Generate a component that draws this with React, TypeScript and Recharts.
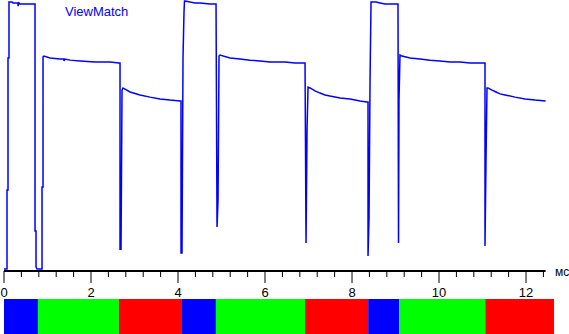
import { Bar, BarChart, Line, LineChart, XAxis, YAxis, Label } from "recharts";

// trace: time in ms, brightness in % of full scale
const traceTime = [
  0, 0.069, 0.069, 0.092, 0.092, 0.115, 0.115, 0.184, 0.207, 0.322, 0.322, 0.345, 0.368, 0.552, 0.713,
  0.713, 0.736, 0.736, 0.759, 0.874, 0.874, 0.897, 0.897, 0.92, 1.057, 1.287, 1.379, 1.379, 1.402, 1.517,
  1.747, 2.092, 2.437, 2.644, 2.667, 2.667, 2.69, 2.713, 2.736, 2.897, 3.126, 3.356, 3.586, 3.816, 4.046,
  4.069, 4.069, 4.092, 4.115, 4.138, 4.149,
  4.161, 4.276, 4.391, 4.506, 4.736, 4.874, 4.897, 4.92, 4.943, 4.966, 5.195, 5.425, 5.655, 5.885, 6.115,
  6.46, 6.69, 6.897, 6.92, 6.943, 6.966, 6.989, 7.034, 7.149, 7.264, 7.379, 7.494, 7.724, 7.954, 8.184,
  8.345, 8.368, 8.368, 8.391, 8.414, 8.437,
  8.552, 8.644, 8.759, 8.874, 9.034, 9.057, 9.069, 9.08, 9.103, 9.149, 9.333, 9.563, 9.793, 10.023, 10.253,
  10.483, 10.713, 11.034, 11.057, 11.057, 11.08, 11.103, 11.126, 11.218, 11.31, 11.402, 11.517, 11.747,
  11.977, 12.207, 12.45,
];
const traceLevel = [
  0.7, 0.7, 30.0, 30.0, 78.9, 78.9, 99.6, 99.6, 99.3, 99.3, 98.1, 99.3, 98.9, 98.9, 98.9,
  14.8, 14.8, 1.5, 0.7, 0.7, 31.1, 31.1, 79.3, 79.6, 78.9, 78.5, 78.5, 77.8, 78.5, 78.1,
  77.8, 77.4, 77.4, 77.0, 77.0, 8.1, 8.1, 67.0, 67.8, 66.3, 65.2, 64.4, 63.7, 63.3, 63.0,
  63.0, 6.7, 6.7, 79.3, 95.9, 100,
  100, 99.6, 99.3, 99.3, 98.9, 98.9, 16.3, 26.3, 79.6, 80.0, 78.9, 78.5, 78.1, 77.8, 77.4,
  77.4, 77.0, 77.0, 77.0, 10.4, 52.2, 68.1, 67.8, 66.7, 65.9, 65.2, 64.8, 64.1, 63.7, 63.0,
  62.6, 62.6, 5.6, 19.6, 70.0, 99.6,
  99.6, 99.3, 98.9, 98.9, 98.9, 98.9, 10.4, 63.3, 80.0, 79.6, 78.9, 78.5, 78.1, 77.8, 77.4,
  77.4, 77.0, 77.0, 77.0, 9.3, 41.1, 67.8, 67.8, 67.0, 66.3, 65.6, 65.2, 64.4,
  63.7, 63.3, 63.0,
];

// colour frames shown below the axis (ms)
const frameEdges = [0, 0.78, 2.64, 4.09, 4.87, 6.92, 8.37, 9.08, 11.06, 12.64];
const frameColors = ["#0000ff", "#00ff00", "#ff0000", "#0000ff", "#00ff00", "#ff0000", "#0000ff", "#00ff00", "#ff0000"];

const axisTicks = [
  0, 0.4, 0.8, 1.2, 1.6, 2, 2.4, 2.8, 3.2, 3.6, 4, 4.4, 4.8, 5.2, 5.6, 6, 6.4, 6.8, 7.2, 7.6, 8,
  8.4, 8.8, 9.2, 9.6, 10, 10.4, 10.8, 11.2, 11.6, 12, 12.4,
];
const majorTicks = [0, 2, 4, 6, 8, 10, 12];

const trace = traceTime.map((t, i) => ({ t, level: traceLevel[i] }));
const frameRow: Record<string, any> = { name: "frames" };
frameColors.forEach((_, i) => {
  frameRow["f" + i] = frameEdges[i + 1] - frameEdges[i];
});

const font = '"Liberation Sans", Arial, sans-serif';

function AxisTick(props: any) {
  const { x, y, payload } = props;
  const major = majorTicks.includes(payload.value);
  return (
    <g>
      <line x1={x} x2={x} y1={y} y2={y + (major ? 12 : 6)} stroke="#000" strokeWidth={1} />
      {major && (
        <text x={x} y={y + 26} textAnchor="middle" fontSize={13} fontFamily={font} fill="#000">
          {payload.value}
        </text>
      )}
    </g>
  );
}

export default function App() {
  return (
    <div style={{ position: "absolute", left: 0, top: 0, width: 569, height: 334, background: "#fff", fontFamily: font }}>
      <LineChart width={569} height={299} data={trace} margin={{ top: 1, right: 23.4, bottom: 0, left: 4 }}>
        <XAxis
          dataKey="t"
          type="number"
          domain={[0, 12.45]}
          ticks={axisTicks}
          interval={0}
          height={28}
          tickSize={0}
          tickMargin={0}
          tickLine={false}
          axisLine={{ stroke: "#000", strokeWidth: 2 }}
          tick={<AxisTick />}
        >
          <Label
            content={(p: any) => {
              const vb = p.viewBox || { x: 4, y: 271, width: 541.6 };
              return (
                <text x={vb.x + vb.width + 9.5} y={vb.y + 5} fontSize={12} fontFamily={font} fill="#000">
                  мс
                </text>
              );
            }}
          />
        </XAxis>
        <YAxis hide type="number" domain={[0, 100]} />
        <Line
          type="linear"
          dataKey="level"
          stroke="#0000ff"
          strokeWidth={1.5}
          dot={false}
          activeDot={false}
          isAnimationActive={false}
        />
      </LineChart>
      <BarChart
        width={569}
        height={35}
        layout="vertical"
        data={[frameRow]}
        margin={{ top: 0, right: 15, bottom: 0, left: 4 }}
        barCategoryGap={0}
        barGap={0}
      >
        <XAxis hide type="number" domain={[0, 12.64]} />
        <YAxis hide type="category" dataKey="name" />
        {frameColors.map((c, i) => (
          <Bar key={i} dataKey={"f" + i} stackId="frames" fill={c} isAnimationActive={false} />
        ))}
      </BarChart>
      <div style={{ position: "absolute", left: 65, top: 5, fontSize: 13, lineHeight: "13px", color: "#0000ff" }}>
        ViewMatch
      </div>
    </div>
  );
}
